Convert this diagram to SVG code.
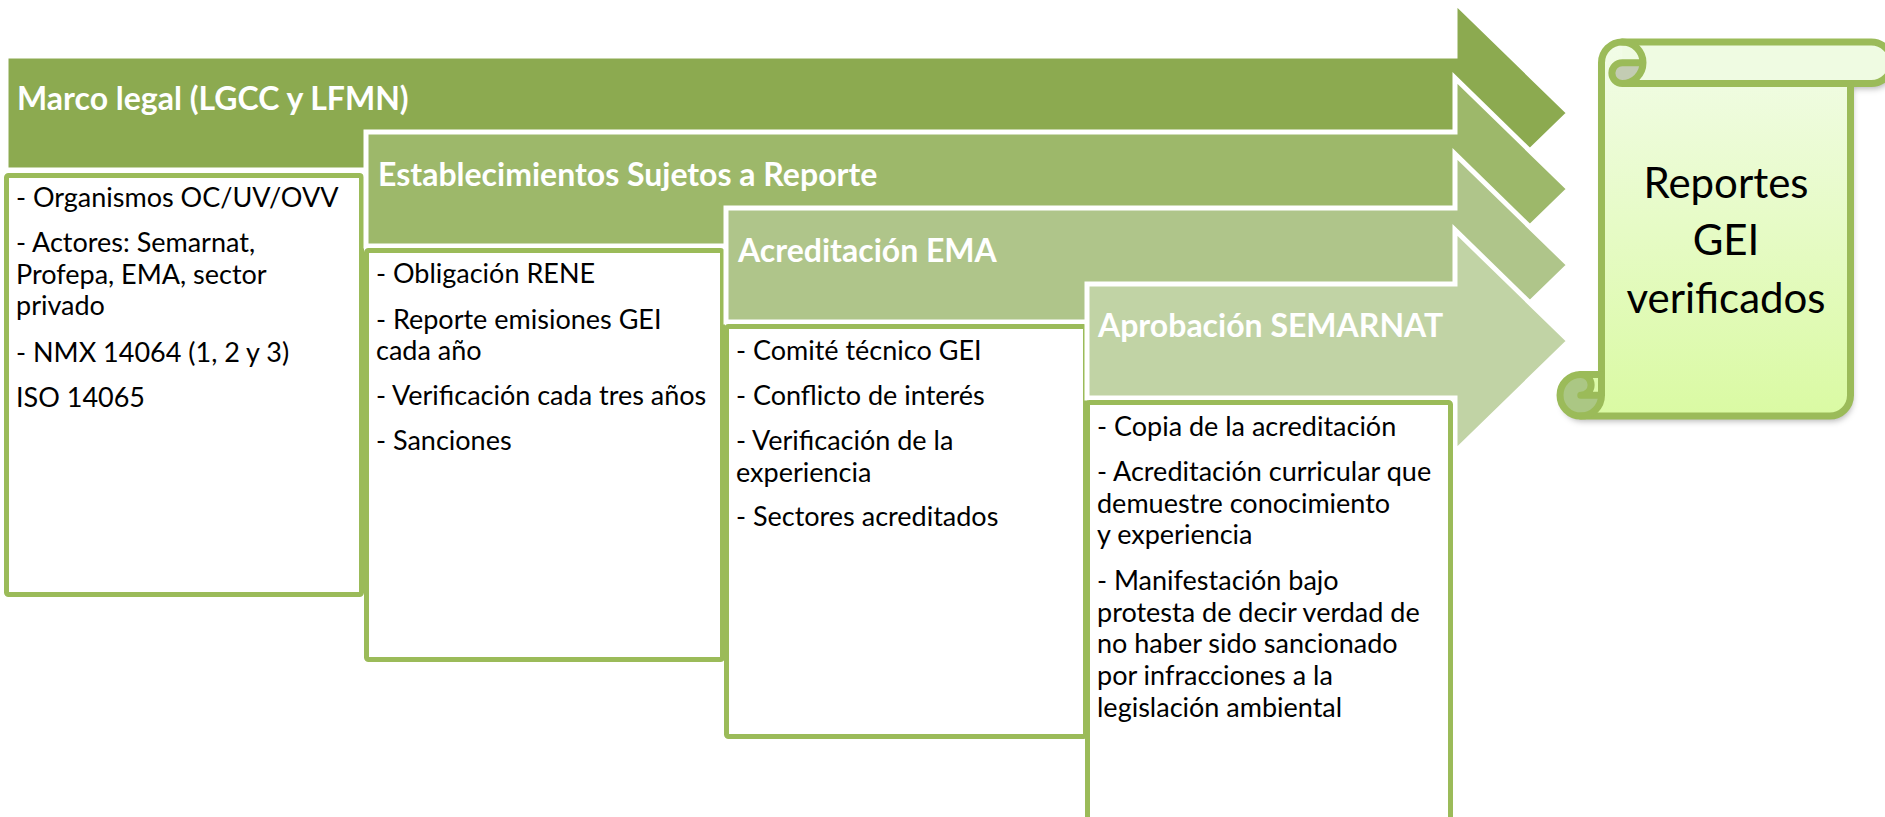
<svg xmlns="http://www.w3.org/2000/svg" width="1885" height="817" viewBox="0 0 1885 817">
<style>
.arrow{stroke:#ffffff;stroke-width:5;stroke-linejoin:miter}
.a1{fill:#8CAA50}.a2{fill:#9DB86A}.a3{fill:#AFC58A}.a4{fill:#C1D3A5}
.box{fill:#ffffff;stroke:#9BBB59;stroke-width:5}
.title{font-family:Lato,"Open Sans",sans-serif;font-weight:700;font-size:32px;fill:#ffffff}
.body{font-family:Lato,"Open Sans",sans-serif;font-size:27px;fill:#000000}
.big{font-family:Lato,"Open Sans",sans-serif;font-size:42px;fill:#000000;text-anchor:middle}
.scroll-line{fill:none;stroke:#9BBB59;stroke-width:7;stroke-linejoin:round;stroke-linecap:round}
</style>
<defs>
<linearGradient id="scrollFill" x1="0" y1="0" x2="0" y2="1">
<stop offset="0" stop-color="#F2FCE8"/>
<stop offset="1" stop-color="#DAFAA3"/>
</linearGradient>
<filter id="shadow" x="-10%" y="-10%" width="130%" height="130%">
<feDropShadow dx="2" dy="5" stdDeviation="3" flood-color="#000000" flood-opacity="0.3"/>
</filter>
</defs>
<rect width="1885" height="817" fill="#ffffff"/>

<g id="connectors"></g>

<g id="marco-legal">
<path class="arrow a1" d="M6,56 H1455 V2 L1569,113 L1455,224 V170 H6 Z"/>
<text class="title" x="17" y="110">Marco legal (LGCC y LFMN)</text>
</g>
<g id="marco-legal-items">
<rect class="box" x="6.5" y="175.5" width="355" height="419" rx="2"/>
<text class="body" x="16" y="207">- Organismos OC/UV/OVV</text>
<text class="body" x="16" y="252">- Actores: Semarnat,</text>
<text class="body" x="16" y="284">Profepa, EMA, sector</text>
<text class="body" x="16" y="315">privado</text>
<text class="body" x="16" y="362">- NMX 14064 (1, 2 y 3)</text>
<text class="body" x="16" y="407">ISO 14065</text>
</g>

<g id="establecimientos">
<path class="arrow a2" d="M366,132 H1455 V78 L1569,189 L1455,300 V246 H366 Z"/>
<text class="title" x="378" y="186">Establecimientos Sujetos a Reporte</text>
</g>
<g id="establecimientos-items">
<rect class="box" x="366.5" y="250.5" width="356" height="409" rx="2"/>
<text class="body" x="376" y="283">- Obligación RENE</text>
<text class="body" x="376" y="329">- Reporte emisiones GEI</text>
<text class="body" x="376" y="360">cada año</text>
<text class="body" x="376" y="405">- Verificación cada tres años</text>
<text class="body" x="376" y="450">- Sanciones</text>
</g>

<g id="acreditacion">
<path class="arrow a3" d="M726,208 H1455 V154 L1569,265 L1455,376 V322 H726 Z"/>
<text class="title" x="738" y="262">Acreditación EMA</text>
</g>
<g id="acreditacion-items">
<rect class="box" x="726.5" y="326.5" width="359" height="410" rx="2"/>
<text class="body" x="736" y="360">- Comité técnico GEI</text>
<text class="body" x="736" y="405">- Conflicto de interés</text>
<text class="body" x="736" y="450">- Verificación de la</text>
<text class="body" x="736" y="482">experiencia</text>
<text class="body" x="736" y="526">- Sectores acreditados</text>
</g>

<g id="aprobacion">
<path class="arrow a4" d="M1087,284 H1455 V230 L1569,341 L1455,452 V398 H1087 Z"/>
<text class="title" x="1098" y="337">Aprobación SEMARNAT</text>
</g>
<g id="aprobacion-items">
<rect class="box" x="1087.5" y="402.5" width="363" height="430" rx="2"/>
<text class="body" x="1097" y="436">- Copia de la acreditación</text>
<text class="body" x="1097" y="481">- Acreditación curricular que</text>
<text class="body" x="1097" y="513">demuestre conocimiento</text>
<text class="body" x="1097" y="544">y experiencia</text>
<text class="body" x="1097" y="590">- Manifestación bajo</text>
<text class="body" x="1097" y="622">protesta de decir verdad de</text>
<text class="body" x="1097" y="653">no haber sido sancionado</text>
<text class="body" x="1097" y="685">por infracciones a la</text>
<text class="body" x="1097" y="717">legislación ambiental</text>
</g>

<g id="reportes-gei">
<g filter="url(#shadow)">
<path fill="url(#scrollFill)" d="M1601.5,374.5 L1601.5,62.75 A20.75,20.75 0 0 1 1622.25,42 L1871.25,42 A20.75,20.75 0 0 1 1871.25,83.5 L1850.5,83.5 L1850.5,395.25 A20.75,20.75 0 0 1 1829.75,416 L1580.75,416 A20.75,20.75 0 0 1 1580.75,374.5 Z"/>
</g>
<path fill="#EFFBE2" d="M1622.25,42 L1871.25,42 A20.75,20.75 0 0 1 1871.25,83.5 L1622.25,83.5 Z"/>
<path fill="#C3CCB3" d="M1643,62.75 A20.75,20.75 0 0 1 1622.25,83.5 A10.375,10.375 0 0 1 1622.25,62.75 Z"/>
<path fill="#ABC784" d="M1601.5,395.25 A20.75,20.75 0 1 1 1580.75,374.5 A10.375,10.375 0 0 1 1580.75,395.25 Z"/>
<path class="scroll-line" d="M1601.5,374.5 L1601.5,62.75 A20.75,20.75 0 0 1 1622.25,42 L1871.25,42 A20.75,20.75 0 0 1 1871.25,83.5 L1850.5,83.5 L1850.5,395.25 A20.75,20.75 0 0 1 1829.75,416 L1580.75,416 A20.75,20.75 0 0 1 1580.75,374.5 Z"/>
<path class="scroll-line" d="M1622.25,42 A20.75,20.75 0 0 1 1622.25,83.5 A10.375,10.375 0 0 1 1622.25,62.75 L1643,62.75 M1850.5,83.5 L1622.25,83.5 M1580.75,374.5 A10.375,10.375 0 0 1 1580.75,395.25 L1601.5,395.25 M1580.75,416 A20.75,20.75 0 0 0 1601.5,395.25 L1601.5,374.5"/>
<text class="big" x="1726" y="198">Reportes</text>
<text class="big" x="1726" y="255">GEI</text>
<text class="big" x="1726" y="313">verificados</text>
</g>
</svg>
